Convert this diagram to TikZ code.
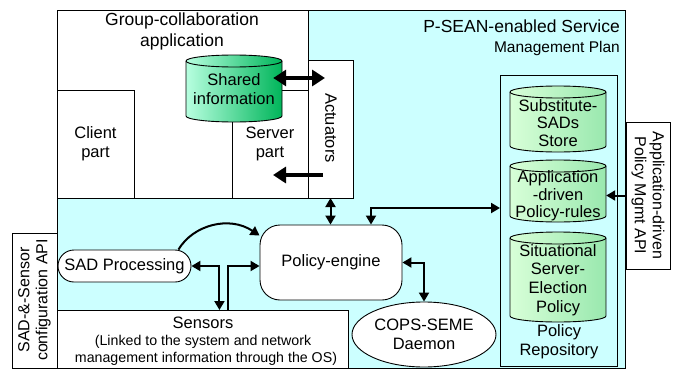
\documentclass[tikz,border=0pt]{standalone}
\usepackage{fontspec}
\setmainfont{Liberation Sans}
\usetikzlibrary{arrows.meta,calc,shapes.geometric}
\definecolor{bgcyan}{HTML}{CCFFFF}
\definecolor{shL}{HTML}{B8FFE0}
\definecolor{shR}{HTML}{00B55A}
\definecolor{rpL}{HTML}{D8FFD8}
\definecolor{rpR}{HTML}{99E8AE}
% #1 x1, #2 y1, #3 x2, #4 y2, #5 rx, #6 ry, #7 shading keys
\newcommand{\dbcyl}[7]{%
  \shade[#7, draw=black, line width=0.9pt] (#1,{#2+#6}) -- (#1,{#4-#6})
    arc[start angle=180,end angle=360,x radius=#5pt,y radius=#6pt]
    -- (#3,{#2+#6})
    arc[start angle=0,end angle=180,x radius=#5pt,y radius=#6pt] -- cycle;
  \draw[line width=0.9pt] (#1,{#2+#6})
    arc[start angle=180,end angle=360,x radius=#5pt,y radius=#6pt];
}
\tikzset{
  frame/.style={draw, line width=0.9pt, anchor=north west, inner sep=0pt, outer sep=0pt},
  lbl/.style={font=\fontsize{16.5}{19}\selectfont, align=center, inner sep=0pt},
  cyllbl/.style={lbl, minimum width=96pt},
  arr/.style={line width=2pt, >={Triangle[length=9pt,width=10pt]}},
  fat/.style={line width=4.5pt, >={Triangle[length=13pt,width=16pt]}},
}
\begin{document}
\begin{tikzpicture}[x=1pt,y=-1pt]
\useasboundingbox (0,0) rectangle (682,372);
\fill[white] (0,0) rectangle (682,372);
% frames
\node[frame, fill=bgcyan, minimum width=568pt, minimum height=358pt] (plane) at (57,10) {};
\node[frame, fill=white, minimum width=251pt, minimum height=188pt] (group) at (57,10) {};
\node[frame, fill=white, minimum width=77pt, minimum height=108pt] (client) at (57,90) {};
\node[frame, fill=white, minimum width=76pt, minimum height=108pt] (server) at (232,90) {};
\node[frame, fill=white, minimum width=45pt, minimum height=138pt] (act) at (308,60) {};
\dbcyl{186}{55}{282}{122}{48}{6}{left color=shL,right color=shR}
\node[frame, fill=white, minimum width=291pt, minimum height=58pt] (sensors) at (57,310) {};
\node[frame, fill=white, minimum width=45pt, minimum height=135pt] (sadapi) at (12,233) {};
\node[frame, fill=white, minimum width=44pt, minimum height=147pt] (polapi) at (626,122) {};
\node[frame, fill=bgcyan, minimum width=117pt, minimum height=291pt] (repo) at (500,75) {};
\dbcyl{510}{86}{606}{152}{48}{6}{left color=rpL,right color=rpR}
\dbcyl{510}{160}{606}{222}{48}{6}{left color=rpL,right color=rpR}
\dbcyl{510}{232}{606}{322}{48}{6}{left color=rpL,right color=rpR}
% labels
\node[lbl, font=\fontsize{17.5}{21}\selectfont] (grouplbl) at (182,31) {Group-collaboration\\application};
\node[lbl, anchor=east, font=\fontsize{17.5}{21}\selectfont] (title1) at (620,26) {P-SEAN-enabled Service};
\node[lbl, anchor=east, font=\fontsize{15.5}{19}\selectfont] (title2) at (620,48) {Management Plan};
\node[lbl] (clientlbl) at (95.5,144) {Client\\part};
\node[lbl] (serverlbl) at (270,144) {Server\\part};
\node[cyllbl] (shared) at (234,89) {Shared\\information};
\node[lbl, rotate=-90] (actlbl) at (331,128) {Actuators};
\node[cyllbl, font=\fontsize{16.5}{17.5}\selectfont] (subst) at (558,123) {Substitute-\\SADs\\Store};
\node[cyllbl, font=\fontsize{16.5}{17.5}\selectfont] (rules) at (558,196) {Application\\-driven\\Policy-rules};
\node[cyllbl, font=\fontsize{16.5}{18.7}\selectfont] (elect) at (558,280) {Situational\\Server-\\Election\\Policy};
\node[lbl] (repolbl) at (559,342) {Policy\\Repository};
\node[lbl, rotate=90, font=\fontsize{16}{18}\selectfont] (sadapilbl) at (34.5,300) {SAD-\&-Sensor\\configuration API};
\node[lbl, rotate=-90, font=\fontsize{16}{18}\selectfont] (polapilbl) at (648,195.5) {Application-driven\\Policy Mgmt API};
\node[lbl, anchor=base] (sens1) at (203,328) {Sensors};
\node[lbl, anchor=base, font=\fontsize{14.2}{17}\selectfont] (sens2) at (203,345.5) {(Linked to the system and network};
\node[lbl, anchor=base, font=\fontsize{14.2}{17}\selectfont] (sens3) at (206,362.5) {management information through the OS)};
% process nodes
\node[lbl, draw, line width=0.9pt, fill=white, rounded corners=16pt, minimum width=133pt, minimum height=32pt] (sad) at (124.5,266) {SAD Processing};
\node[lbl, draw, line width=0.9pt, fill=white, rounded corners=20pt, minimum width=142pt, minimum height=75pt] (pe) at (331,262.5) {Policy-engine};
\node[lbl, ellipse, draw, line width=0.9pt, fill=white, minimum width=144pt, minimum height=65pt] (cops) at (424,334.5) {COPS-SEME\\Daemon};
% connectors
\coordinate (j1) at ($(sad.east)+(28,0)$);
\draw[fat, <->] ($(shared.east)+(-9,-11)$) -- ($(act.north west)+(17,18)$);
\draw[fat, ->] ($(act.west)+(15,46)$) -- ($(server.east)+(-35,31)$);
\draw[arr, ->] ($(sad.north east)+(-13,0)$) .. controls +(15,-25) and +(-30,-20) .. ($(pe.north west)+(0,11)$);
\draw[arr, <->] (sad.east) -- (j1) -- (j1 |- sensors.north);
\draw[arr, ->] ($(sensors.north west)+(171,0)$) |- (pe.west |- sad.east);
\draw[arr, <->] (act.south) -- (act.south |- pe.north);
\draw[arr, <->] ($(pe.north)+(40,0)$) |- ($(repo.north west)+(0,133)$);
\draw[arr, <->] (pe.east) -| (cops.north);
\draw[arr, ->] (polapi.west) -- (polapi.west -| rules.east);
\end{tikzpicture}
\end{document}
